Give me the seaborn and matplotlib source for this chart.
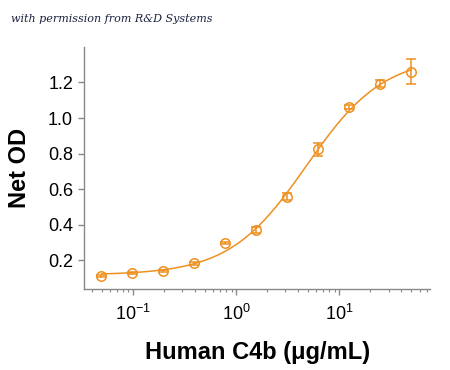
import numpy as np
import pandas as pd
import matplotlib
matplotlib.use('Agg')
import matplotlib.pyplot as plt
import seaborn as sns

# --- Data ---
conc = [0.049, 0.098, 0.195, 0.39, 0.78, 1.56, 3.125, 6.25, 12.5, 25, 50]
net_od = [0.110, 0.125, 0.136, 0.181, 0.296, 0.369, 0.556, 0.823, 1.063, 1.194, 1.260]
od_err = [0.006, 0.006, 0.006, 0.010, 0.006, 0.015, 0.020, 0.036, 0.010, 0.020, 0.071]

df = pd.DataFrame({'conc': conc, 'od': net_od, 'err': od_err})

# --- 4PL fit (grid over EC50 / hill, linear solve for bottom / top) ---
x = np.array(conc)
y = np.array(net_od)
best = None
for c in np.logspace(0, 1.2, 200):
    for b in np.linspace(0.8, 2.0, 121):
        s = 1.0 / (1.0 + (x / c) ** b)
        A = np.column_stack([s, 1 - s])
        coef, *_ = np.linalg.lstsq(A, y, rcond=None)
        r = np.sum((A @ coef - y) ** 2)
        if best is None or r < best[0]:
            best = (r, c, b, coef)
_, ec50, hill, (bottom, top) = best
xf = np.logspace(np.log10(0.049), np.log10(50), 300)
fit = pd.DataFrame({'conc': xf, 'od': top + (bottom - top) / (1 + (xf / ec50) ** hill)})

color = '#EE9021'

sns.set_style('ticks')
plt.rcParams['font.family'] = ['Liberation Sans', 'DejaVu Sans']
plt.rcParams['text.color'] = 'black'
plt.rcParams['axes.labelcolor'] = 'black'
plt.rcParams['xtick.labelcolor'] = 'black'
plt.rcParams['ytick.labelcolor'] = 'black'
plt.rcParams['axes.unicode_minus'] = False

fig = plt.figure(figsize=(4.5, 3.7), dpi=100)
ax = fig.add_axes([0.187, 0.219, 0.769, 0.654])

sns.lineplot(data=fit, x='conc', y='od', color=color, lw=1.1, ax=ax)
ax.errorbar(df['conc'], df['od'], yerr=df['err'], fmt='o', mfc='none', mec=color,
            ms=6.8, mew=1.1, ecolor=color, elinewidth=1.1, capsize=3.5, capthick=1.1)

ax.set_xscale('log')
ax.set_xlim(0.0335, 76)
ax.set_ylim(0.037, 1.40)
ax.set_yticks([0.2, 0.4, 0.6, 0.8, 1.0, 1.2])
ax.set_yticklabels(['0.2', '0.4', '0.6', '0.8', '1.0', '1.2'])
ax.set_xticks([0.1, 1, 10])

for side in ['top', 'right']:
    ax.spines[side].set_visible(False)
for side in ['left', 'bottom']:
    ax.spines[side].set_color('#888888')
    ax.spines[side].set_linewidth(1.0)

ax.tick_params(axis='both', which='major', direction='out', length=4, width=1,
               color='#888888', labelsize=13, pad=4)
ax.tick_params(axis='x', which='major', pad=7)
ax.tick_params(axis='x', which='minor', direction='out', length=2.5, width=0.8, color='#888888')

ax.set_xlabel('Human C4b (μg/mL)', fontsize=17, fontweight='bold', labelpad=12)
ax.set_ylabel('Net OD', fontsize=17, fontweight='bold', labelpad=12)

fig.text(0.025, 0.95, 'with permission from R&D Systems', fontsize=8, style='italic',
         family='DejaVu Serif', color='#1a2240', va='center')

fig.savefig('out.png', dpi=100)
plt.close()
